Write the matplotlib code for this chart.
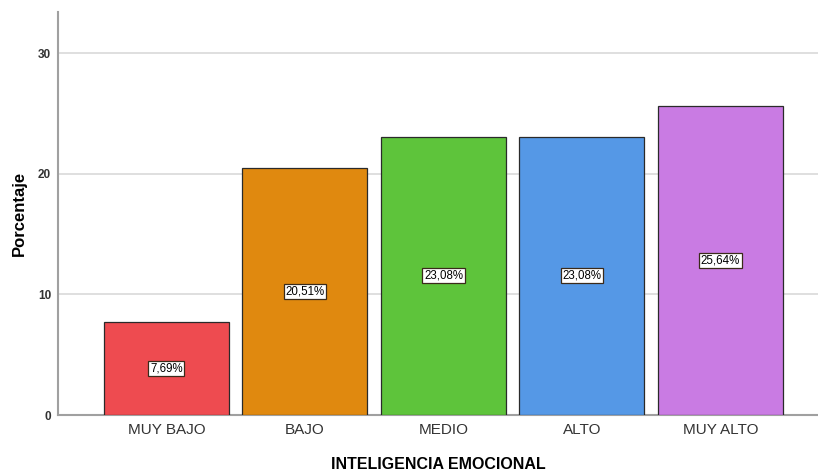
import matplotlib
matplotlib.use("Agg")
import matplotlib.pyplot as plt

plt.rcParams["font.family"] = ["Liberation Sans", "DejaVu Sans"]

categories = ["MUY BAJO", "BAJO", "MEDIO", "ALTO", "MUY ALTO"]
values = [7.69, 20.51, 23.08, 23.08, 25.64]
labels = ["7,69%", "20,51%", "23,08%", "23,08%", "25,64%"]
colors = ["#EE4B50", "#E0890F", "#5EC43B", "#5598E6", "#C97BE3"]
yticks = [0, 10, 20, 30]

fig = plt.figure(figsize=(8.18, 4.73), dpi=100)
ax = fig.add_axes([58/818, 58/473, 1 - 58/818, (415-12)/473])

x = list(range(len(categories)))
bars = ax.bar(x, values, width=0.9025, color=colors, edgecolor="#2a2a2a", linewidth=0.9, zorder=3)
for xi, v, lab in zip(x, values, labels):
    ax.text(xi, v/2, lab, ha="center", va="center", fontsize=8.3, color="black", zorder=4,
            bbox=dict(boxstyle="square,pad=0.15", facecolor="white", edgecolor="#3a2a1a", linewidth=0.9))

ax.set_xlim(-0.783, 4.704)
ax.set_ylim(0, 33.4)
ax.set_yticks(yticks)
ax.set_yticklabels([str(t) for t in yticks], fontsize=8.5, fontweight="bold", color="#333333")
ax.set_xticks(x)
ax.set_xticklabels(categories, fontsize=11, color="#333333")
ax.tick_params(axis="both", length=0, pad=5)
ax.tick_params(axis="x", pad=6)
ax.yaxis.grid(True, color="#d9d9d9", linewidth=1.2, zorder=0)
ax.set_axisbelow(True)
for s in ["top", "right"]:
    ax.spines[s].set_visible(False)
ax.spines["left"].set_color("#a0a0a0")
ax.spines["bottom"].set_color("#a0a0a0")
ax.spines["left"].set_linewidth(1.5)
ax.spines["bottom"].set_linewidth(1.5)

ax.set_ylabel("Porcentaje", fontsize=12, fontweight="bold", color="black", labelpad=8)
ax.set_xlabel("INTELIGENCIA EMOCIONAL", fontsize=11.5, fontweight="bold", color="black", labelpad=14)

fig.savefig("out.png", dpi=100)
